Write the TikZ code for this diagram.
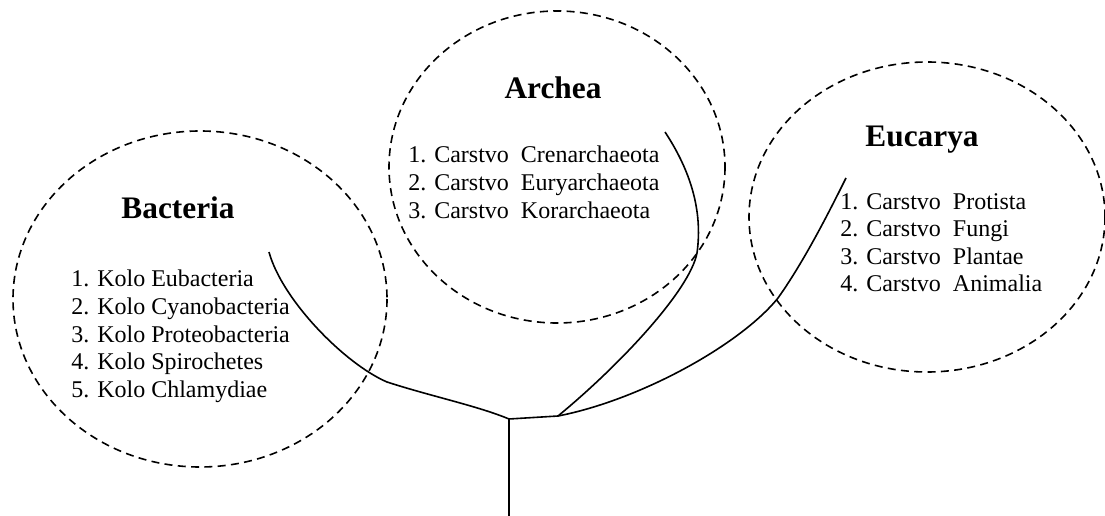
\documentclass[tikz,border=0pt]{standalone}
\usepackage{fontspec}
\setmainfont{Liberation Serif}
\tikzset{
	domainline/.style={dash pattern={on 6pt off 4pt}, line width=1.2pt},
	branch/.style={line width=1.2pt},
	domainname/.style={anchor=base, inner sep=0pt, font=\fontsize{23.5}{28}\selectfont\bfseries},
	kingdoms/.style={anchor=north west, inner sep=0pt, align=left, font=\fontsize{18}{20.7}\selectfont}
}
\begin{document}
\begin{tikzpicture}[x=0.75pt,y=0.75pt,yscale=-1,xscale=1]
	\useasboundingbox (0,0) rectangle (1105,516);
	\draw [domainline] (200,299) ellipse (187 and 168);
	\draw [domainline] (557,167) ellipse (168 and 156);
	\draw [domainline] (927,217) ellipse (178 and 155);
	\coordinate (stem) at (509,516);
	\coordinate (root) at (509,419);
	\coordinate (fork) at (558,416);
	\coordinate (bacBend) at (387,382);
	\coordinate (bacTip) at (269,252);
	\coordinate (arcBend) at (697,253);
	\coordinate (arcTip) at (665,132);
	\coordinate (eucBend) at (778,298);
	\coordinate (eucTip) at (846,178);
	\draw [branch] (stem) -- (root) -- (fork);
	\draw [branch] (root) .. controls (478,406) and (430,396) .. (bacBend) .. controls (345,364) and (282,300) .. (bacTip);
	\draw [branch] (fork) .. controls (620,365) and (690,290) .. (arcBend) .. controls (703,210) and (690,170) .. (arcTip);
	\draw [branch] (fork) .. controls (640,400) and (740,345) .. (eucBend) .. controls (805,260) and (830,210) .. (eucTip);
	\node (bacteria) [domainname] at (178,219) {Bacteria};
	\node (archea) [domainname] at (553,99) {Archea};
	\node (eucarya) [domainname] at (922,147) {Eucarya};
	\node (bacteriaList) [kingdoms] at (71,270) {1. Kolo Eubacteria\\2. Kolo Cyanobacteria\\3. Kolo Proteobacteria\\4. Kolo Spirochetes\\5. Kolo Chlamydiae};
	\node (archeaList) [kingdoms] at (408,146) {1. Carstvo\ \ Crenarchaeota\\2. Carstvo\ \ Euryarchaeota\\3. Carstvo\ \ Korarchaeota};
	\node (eucaryaList) [kingdoms] at (840,193) {1. Carstvo\ \ Protista\\2. Carstvo\ \ Fungi\\3. Carstvo\ \ Plantae\\4. Carstvo\ \ Animalia};
\end{tikzpicture}
\end{document}
